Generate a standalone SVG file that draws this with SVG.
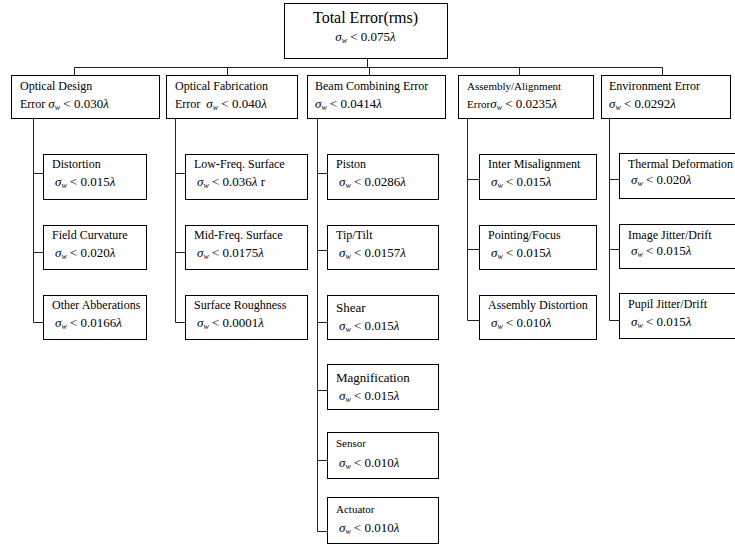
<svg xmlns="http://www.w3.org/2000/svg" width="735" height="550" viewBox="0 0 735 550">
<style>
  text { font-family: "Liberation Serif", "Times New Roman", serif; fill: #000; }
  .box { fill: #fff; stroke: #000; stroke-width: 1; }
  .ln { fill: none; stroke: #222; stroke-width: 1; }
  .t16 { font-size: 16px; }
  .t12 { font-size: 12px; }
  .t11 { font-size: 11px; }
  .t13 { font-size: 13px; }
  .f { font-size: 13px; }
  .it { font-style: italic; }
  .sub { font-style: italic; font-size: 8px; }
</style>

<g id="connectors">
  <path class="ln" d="M367.5 58.5 V67.5 M74.5 67.5 H662.5 M74.5 67.5 V75.5 M227.5 67.5 V75.5 M369.5 67.5 V75.5 M519.5 67.5 V75.5 M662.5 67.5 V75.5"/>
  <path class="ln" d="M33.5 118.5 V322.5 M33.5 173.5 H43.5 M33.5 252.5 H43.5 M33.5 322.5 H43.5"/>
  <path class="ln" d="M175.5 118.5 V322.5 M175.5 173.5 H185.5 M175.5 252.5 H185.5 M175.5 322.5 H185.5"/>
  <path class="ln" d="M317.5 118.5 V531.5 M317.5 173.5 H327.5 M317.5 250.5 H327.5 M317.5 322.5 H327.5 M317.5 390.5 H327.5 M317.5 460.5 H327.5 M317.5 531.5 H327.5"/>
  <path class="ln" d="M467.5 118.5 V320.5 M467.5 179.5 H479.5 M467.5 249.5 H479.5 M467.5 320.5 H479.5"/>
  <path class="ln" d="M609.5 118.5 V320.5 M609.5 179.5 H619.5 M609.5 249.5 H619.5 M609.5 320.5 H619.5"/>
</g>

<g id="total">
  <rect class="box" x="284.5" y="3.5" width="163" height="55"/>
  <text class="t16" x="365.5" y="23" text-anchor="middle">Total Error(rms)</text>
  <text class="f" x="365.5" y="41" text-anchor="middle"><tspan class="it">σ</tspan><tspan class="sub" dy="2">w</tspan><tspan dy="-2"> &lt; 0.075</tspan><tspan class="it">λ</tspan></text>
</g>

<g id="optical-design">
  <rect class="box" x="11.5" y="75.5" width="148" height="43"/>
  <text class="t12" x="20" y="90">Optical Design</text>
  <text x="20" y="108"><tspan class="t12">Error </tspan><tspan class="f it">σ</tspan><tspan class="sub" dy="2">w</tspan><tspan class="f" dy="-2"> &lt; 0.030</tspan><tspan class="f it">λ</tspan></text>
</g>
<g id="optical-fabrication">
  <rect class="box" x="166.5" y="75.5" width="131" height="43"/>
  <text class="t12" x="175" y="90">Optical Fabrication</text>
  <text x="175" y="108"><tspan class="t12">Error </tspan><tspan class="f it" dx="3">σ</tspan><tspan class="sub" dy="2">w</tspan><tspan class="f" dy="-2"> &lt; 0.040</tspan><tspan class="f it">λ</tspan></text>
</g>
<g id="beam-combining">
  <rect class="box" x="307.5" y="75.5" width="138" height="43"/>
  <text class="t12" x="315" y="90">Beam Combining Error</text>
  <text x="315" y="108"><tspan class="f it">σ</tspan><tspan class="sub" dy="2">w</tspan><tspan class="f" dy="-2"> &lt; 0.0414</tspan><tspan class="f it">λ</tspan></text>
</g>
<g id="assembly-alignment">
  <rect class="box" x="458.5" y="75.5" width="135" height="43"/>
  <text class="t11" x="467" y="90">Assembly/Alignment</text>
  <text x="467" y="108"><tspan class="t11">Error</tspan><tspan class="f it">σ</tspan><tspan class="sub" dy="2">w</tspan><tspan class="f" dy="-2"> &lt; 0.0235</tspan><tspan class="f it">λ</tspan></text>
</g>
<g id="environment">
  <rect class="box" x="601.5" y="75.5" width="129" height="43"/>
  <text class="t12" x="609" y="90">Environment Error</text>
  <text x="609" y="108"><tspan class="f it">σ</tspan><tspan class="sub" dy="2">w</tspan><tspan class="f" dy="-2"> &lt; 0.0292</tspan><tspan class="f it">λ</tspan></text>
</g>

<!-- column 1 -->
<g id="distortion">
  <rect class="box" x="43.5" y="154.5" width="103" height="45"/>
  <text class="t12" x="52" y="168">Distortion</text>
  <text class="f" x="55" y="186"><tspan class="it">σ</tspan><tspan class="sub" dy="2">w</tspan><tspan dy="-2"> &lt; 0.015</tspan><tspan class="it">λ</tspan></text>
</g>
<g id="field-curvature">
  <rect class="box" x="43.5" y="225.5" width="103" height="44"/>
  <text class="t12" x="52" y="239">Field Curvature</text>
  <text class="f" x="55" y="257"><tspan class="it">σ</tspan><tspan class="sub" dy="2">w</tspan><tspan dy="-2"> &lt; 0.020</tspan><tspan class="it">λ</tspan></text>
</g>
<g id="other-abberations">
  <rect class="box" x="43.5" y="295.5" width="103" height="44"/>
  <text class="t12" x="52" y="309">Other Abberations</text>
  <text class="f" x="55" y="327"><tspan class="it">σ</tspan><tspan class="sub" dy="2">w</tspan><tspan dy="-2"> &lt; 0.0166</tspan><tspan class="it">λ</tspan></text>
</g>

<!-- column 2 -->
<g id="low-freq">
  <rect class="box" x="185.5" y="154.5" width="122" height="45"/>
  <text class="t12" x="194" y="168">Low-Freq. Surface</text>
  <text class="f" x="197" y="186"><tspan class="it">σ</tspan><tspan class="sub" dy="2">w</tspan><tspan dy="-2"> &lt; 0.036</tspan><tspan class="it">λ</tspan><tspan> r</tspan></text>
</g>
<g id="mid-freq">
  <rect class="box" x="185.5" y="225.5" width="122" height="44"/>
  <text class="t12" x="194" y="239">Mid-Freq. Surface</text>
  <text class="f" x="197" y="257"><tspan class="it">σ</tspan><tspan class="sub" dy="2">w</tspan><tspan dy="-2"> &lt; 0.0175</tspan><tspan class="it">λ</tspan></text>
</g>
<g id="surface-roughness">
  <rect class="box" x="185.5" y="295.5" width="122" height="44"/>
  <text class="t12" x="194" y="309">Surface Roughness</text>
  <text class="f" x="197" y="327"><tspan class="it">σ</tspan><tspan class="sub" dy="2">w</tspan><tspan dy="-2"> &lt; 0.0001</tspan><tspan class="it">λ</tspan></text>
</g>

<!-- column 3 -->
<g id="piston">
  <rect class="box" x="327.5" y="154.5" width="111" height="45"/>
  <text class="t12" x="336" y="168">Piston</text>
  <text class="f" x="339" y="186"><tspan class="it">σ</tspan><tspan class="sub" dy="2">w</tspan><tspan dy="-2"> &lt; 0.0286</tspan><tspan class="it">λ</tspan></text>
</g>
<g id="tip-tilt">
  <rect class="box" x="327.5" y="225.5" width="111" height="44"/>
  <text class="t12" x="336" y="239">Tip/Tilt</text>
  <text class="f" x="339" y="257"><tspan class="it">σ</tspan><tspan class="sub" dy="2">w</tspan><tspan dy="-2"> &lt; 0.0157</tspan><tspan class="it">λ</tspan></text>
</g>
<g id="shear">
  <rect class="box" x="327.5" y="295.5" width="111" height="44"/>
  <text class="t13" x="336" y="312">Shear</text>
  <text class="f" x="339" y="330"><tspan class="it">σ</tspan><tspan class="sub" dy="2">w</tspan><tspan dy="-2"> &lt; 0.015</tspan><tspan class="it">λ</tspan></text>
</g>
<g id="magnification">
  <rect class="box" x="327.5" y="364.5" width="111" height="45"/>
  <text class="t13" x="336" y="382">Magnification</text>
  <text class="f" x="339" y="400"><tspan class="it">σ</tspan><tspan class="sub" dy="2">w</tspan><tspan dy="-2"> &lt; 0.015</tspan><tspan class="it">λ</tspan></text>
</g>
<g id="sensor">
  <rect class="box" x="327.5" y="432.5" width="111" height="46"/>
  <text class="t11" x="336" y="447">Sensor</text>
  <text class="f" x="339" y="467"><tspan class="it">σ</tspan><tspan class="sub" dy="2">w</tspan><tspan dy="-2"> &lt; 0.010</tspan><tspan class="it">λ</tspan></text>
</g>
<g id="actuator">
  <rect class="box" x="327.5" y="497.5" width="111" height="46"/>
  <text class="t11" x="336" y="513">Actuator</text>
  <text class="f" x="339" y="532"><tspan class="it">σ</tspan><tspan class="sub" dy="2">w</tspan><tspan dy="-2"> &lt; 0.010</tspan><tspan class="it">λ</tspan></text>
</g>

<!-- column 4 -->
<g id="inter-misalignment">
  <rect class="box" x="479.5" y="154.5" width="117" height="45"/>
  <text class="t12" x="488" y="168">Inter Misalignment</text>
  <text class="f" x="491" y="186"><tspan class="it">σ</tspan><tspan class="sub" dy="2">w</tspan><tspan dy="-2"> &lt; 0.015</tspan><tspan class="it">λ</tspan></text>
</g>
<g id="pointing-focus">
  <rect class="box" x="479.5" y="225.5" width="117" height="44"/>
  <text class="t12" x="488" y="239">Pointing/Focus</text>
  <text class="f" x="491" y="257"><tspan class="it">σ</tspan><tspan class="sub" dy="2">w</tspan><tspan dy="-2"> &lt; 0.015</tspan><tspan class="it">λ</tspan></text>
</g>
<g id="assembly-distortion">
  <rect class="box" x="479.5" y="295.5" width="117" height="44"/>
  <text class="t12" x="488" y="309">Assembly Distortion</text>
  <text class="f" x="491" y="327"><tspan class="it">σ</tspan><tspan class="sub" dy="2">w</tspan><tspan dy="-2"> &lt; 0.010</tspan><tspan class="it">λ</tspan></text>
</g>

<!-- column 5 -->
<g id="thermal-deformation">
  <rect class="box" x="619.5" y="153.5" width="125" height="45"/>
  <text class="t12" x="628" y="168">Thermal Deformation</text>
  <text class="f" x="631" y="184"><tspan class="it">σ</tspan><tspan class="sub" dy="2">w</tspan><tspan dy="-2"> &lt; 0.020</tspan><tspan class="it">λ</tspan></text>
</g>
<g id="image-jitter">
  <rect class="box" x="619.5" y="224.5" width="125" height="44"/>
  <text class="t12" x="628" y="239">Image Jitter/Drift</text>
  <text class="f" x="631" y="255"><tspan class="it">σ</tspan><tspan class="sub" dy="2">w</tspan><tspan dy="-2"> &lt; 0.015</tspan><tspan class="it">λ</tspan></text>
</g>
<g id="pupil-jitter">
  <rect class="box" x="619.5" y="293.5" width="125" height="45"/>
  <text class="t12" x="628" y="308">Pupil Jitter/Drift</text>
  <text class="f" x="631" y="326"><tspan class="it">σ</tspan><tspan class="sub" dy="2">w</tspan><tspan dy="-2"> &lt; 0.015</tspan><tspan class="it">λ</tspan></text>
</g>
</svg>
